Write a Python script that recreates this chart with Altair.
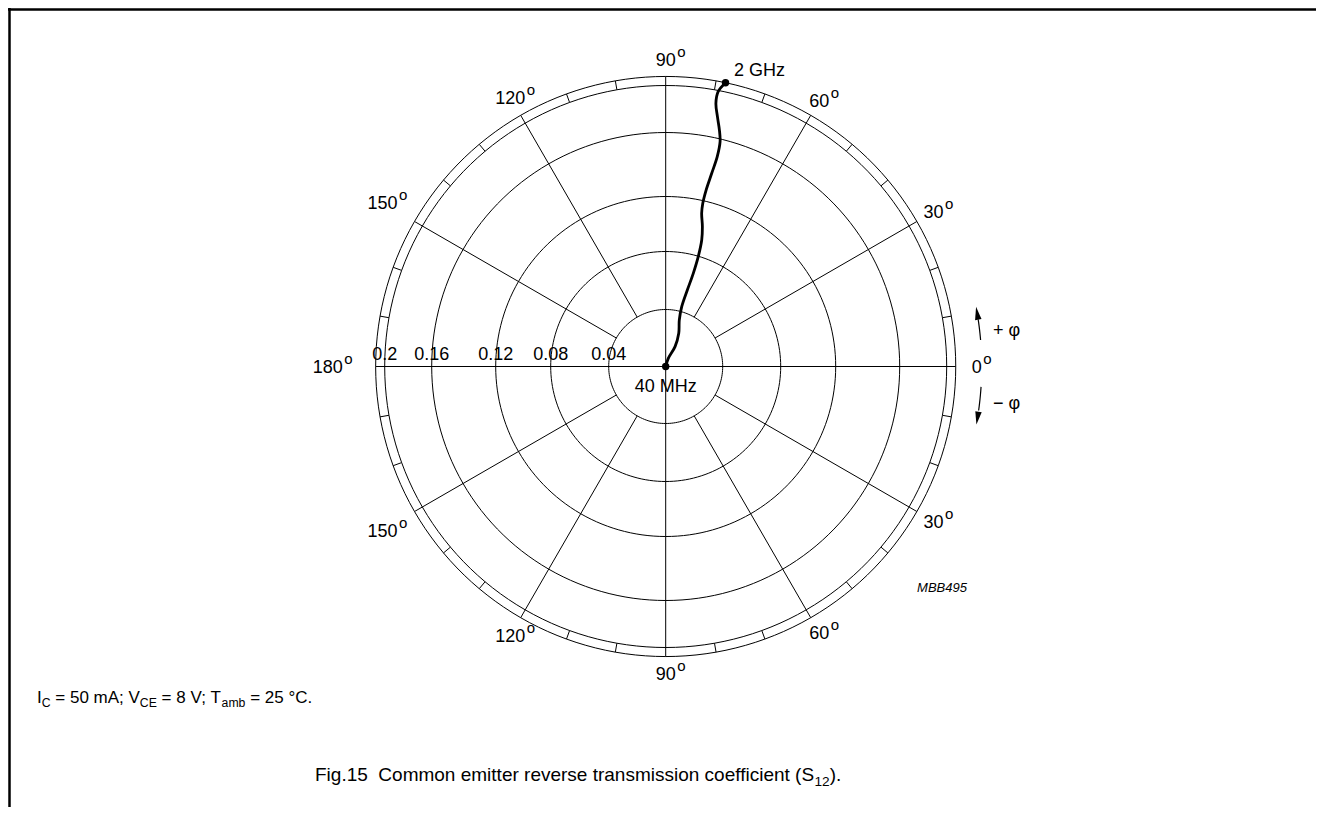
import math
import altair as alt
import pandas as pd

# ---------------- data ----------------
RING_VALUES = [0.04, 0.08, 0.12, 0.16, 0.20]
RING_LABELS = ["0.04", "0.08", "0.12", "0.16", "0.2"]
PHASE_ANGLES = [0, 30, 60, 90, 120, 150, 180, 210, 240, 270, 300, 330]
PHASE_TEXT = ["0", "30", "60", "90", "120", "150", "180", "150", "120", "90", "60", "30"]
# S12 trace, 40 MHz (centre) -> 2 GHz (magnitude, phase in degrees)
S12_MAG = [0.0, 0.0060, 0.0154, 0.0251, 0.0340, 0.0434, 0.0555, 0.0677, 0.0797, 0.0920,
           0.1015, 0.1109, 0.1180, 0.1269, 0.1379, 0.1488, 0.1583, 0.1672, 0.1780,
           0.1889, 0.1990, 0.2077]
S12_PHASE = [75.0, 72.4, 64.8, 68.6, 73.7, 75.0, 74.2, 73.5, 73.5, 74.1, 75.3, 76.8,
             77.2, 77.1, 76.6, 76.2, 76.4, 77.2, 78.3, 79.2, 79.2, 78.1]
FREQ_LABELS = ["40 MHz", "2 GHz"]
FOOTNOTE = [("I", False), ("C", True), (" = 50 mA; V", False), ("CE", True),
            (" = 8 V; T", False), ("amb", True), (" = 25 °C.", False)]
TITLE = [("Fig.15  Common emitter reverse transmission coefficient (S", False),
         ("12", True), (").", False)]
FIG_CODE = "MBB495"
PHI_LABELS = ["+ φ", "\u2212 φ"]

# ---------------- layout ----------------
W, H = 1308, 799
CX, CY = 657.7, 358.5          # pole position inside the plot area
R_DOMAIN = [0, 0.04, 0.08, 0.12, 0.16, 0.20]
R_RANGE = [0, 57, 115, 170, 234, 281]   # printed ring radii (px)
OUTER = 0.2077                  # outer degree-scale ring
FONT = "Liberation Sans"
INK = "#000000"

XS = alt.Scale(domain=[-CX, W - CX], nice=False, zero=False)
YS = alt.Scale(domain=[-(H - CY), CY], nice=False, zero=False)


def X(f):
    return alt.X(f"{f}:Q", scale=XS, axis=None)


def Y(f):
    return alt.Y(f"{f}:Q", scale=YS, axis=None)


def rpx(f):
    n = len(R_DOMAIN)

    def seg(i):
        slope = (R_RANGE[i + 1] - R_RANGE[i]) / (R_DOMAIN[i + 1] - R_DOMAIN[i])
        return f"({R_RANGE[i]} + ({f} - {R_DOMAIN[i]}) * {slope})"

    e = seg(n - 2)
    for i in range(n - 3, -1, -1):
        e = f"({f} <= {R_DOMAIN[i + 1]} ? {seg(i)} : {e})"
    return e


def P(px, py):
    return (px - 8 - CX, CY - (py - 8))


AW = {' ': 278, '\u00a0': 278, '(': 333, ')': 333, '.': 278, ';': 278, '=': 584,
      '°': 400, 'A': 667, 'C': 722, 'E': 667, 'F': 611, 'I': 278, 'S': 667,
      'T': 611, 'V': 667, 'a': 556, 'b': 556, 'c': 500, 'e': 556, 'f': 278,
      'g': 556, 'i': 222, 'm': 833, 'n': 556, 'o': 556, 'r': 333, 's': 500,
      't': 278, 'v': 500}


def tw(s, fs):
    return sum(AW.get(ch, 556) for ch in s) / 1000.0 * fs


def compose(pieces, x0, base_y, fs):
    rows = []
    x = x0
    for txt, sub in pieces:
        size = fs * 0.72 if sub else fs
        y = base_y + (fs * 0.24 if sub else 0)
        lead = len(txt) - len(txt.lstrip(" "))
        px, py = P(x + tw(txt[:lead], size), y)
        rows.append({"t": txt.strip(" ").replace(" ", "\u00a0"), "x": px, "y": py, "fs": size})
        x += tw(txt, size)
    return rows


# ---------------- layers ----------------
ring_rows = [{"ring": r, "a": a} for r in RING_VALUES + [OUTER] for a in range(0, 361, 2)]
circles = (
    alt.Chart(pd.DataFrame(ring_rows))
    .transform_calculate(rp=rpx("datum.ring"))
    .transform_calculate(x="datum.rp*cos(datum.a*PI/180)")
    .transform_calculate(y="datum.rp*sin(datum.a*PI/180)")
    .mark_line(color=INK, strokeWidth=1)
    .encode(x=X("x"), y=Y("y"), detail="ring:N", order="a:Q")
)

spoke_rows = [{"a": a, "r0": 0.0 if a % 90 == 0 else RING_VALUES[0], "r1": OUTER}
              for a in range(0, 360, 30)]
spoke_rows += [{"a": a, "r0": RING_VALUES[-1], "r1": OUTER}
               for a in range(0, 360, 10) if a % 30]
spokes = (
    alt.Chart(pd.DataFrame(spoke_rows))
    .transform_calculate(p0=rpx("datum.r0"))
    .transform_calculate(p1=rpx("datum.r1"))
    .transform_calculate(x0="datum.p0*cos(datum.a*PI/180)", y0="datum.p0*sin(datum.a*PI/180)")
    .transform_calculate(x1="datum.p1*cos(datum.a*PI/180)", y1="datum.p1*sin(datum.a*PI/180)")
    .mark_rule(color=INK, strokeWidth=1)
    .encode(x=X("x0"), y=Y("y0"), x2="x1:Q", y2="y1:Q")
)

curve_df = pd.DataFrame({"mag": S12_MAG, "ph": S12_PHASE, "i": list(range(len(S12_MAG)))})


def polar(ch):
    return (ch.transform_calculate(rp=rpx("datum.mag"))
            .transform_calculate(x="datum.rp*cos(datum.ph*PI/180)")
            .transform_calculate(y="datum.rp*sin(datum.ph*PI/180)"))


curve = polar(alt.Chart(curve_df)).mark_line(
    color=INK, strokeWidth=2.8, interpolate="catmull-rom", strokeCap="round"
).encode(x=X("x"), y=Y("y"), order="i:Q")

ends_df = pd.DataFrame({"mag": [S12_MAG[0], S12_MAG[-1]], "ph": [S12_PHASE[0], S12_PHASE[-1]],
                        "lab": FREQ_LABELS})
dots = polar(alt.Chart(ends_df)).mark_point(filled=True, color=INK, size=55, opacity=1).encode(
    x=X("x"), y=Y("y"))
start_lab = polar(alt.Chart(ends_df.iloc[[0]])).mark_text(
    font=FONT, fontSize=18, align="center", baseline="alphabetic", dy=25.5, color=INK
).encode(x=X("x"), y=Y("y"), text="lab:N")
end_lab = polar(alt.Chart(ends_df.iloc[[1]])).mark_text(
    font=FONT, fontSize=18, align="left", baseline="alphabetic", dx=8.6, dy=-7, color=INK
).encode(x=X("x"), y=Y("y"), text="lab:N")

ring_lab_df = pd.DataFrame({"m": RING_VALUES, "lab": RING_LABELS})
ring_labels = (
    alt.Chart(ring_lab_df)
    .transform_calculate(x="-" + rpx("datum.m"), y="0")
    .mark_text(font=FONT, fontSize=18, align="center", baseline="alphabetic", dy=-7, color=INK)
    .encode(x=X("x"), y=Y("y"), text="lab:N")
)

FS_NUM, FS_O = 18, 15
deg_rows = []
for a, t in zip(PHASE_ANGLES, PHASE_TEXT):
    c, s = math.cos(math.radians(a)), math.sin(math.radians(a))
    wn = len(t) * 0.556 * FS_NUM
    rl = 307 + 4 * max(c, 0) ** 4 + (31 * (-c) ** 3 if c < -0.1 else 0)
    gx, gy = rl * c, rl * s
    deg_rows.append({"t": t, "nx": gx, "ny": gy - 6.5, "ox": gx + wn / 2 + 1.5, "oy": gy + 2.5})
deg_df = pd.DataFrame(deg_rows)
deg_num = alt.Chart(deg_df).mark_text(
    font=FONT, fontSize=FS_NUM, align="center", baseline="alphabetic", color=INK
).encode(x=X("nx"), y=Y("ny"), text="t:N")
deg_o = alt.Chart(deg_df).mark_text(
    font=FONT, fontSize=FS_O, align="left", baseline="alphabetic", color=INK, text="o"
).encode(x=X("ox"), y=Y("oy"))

# phase-direction arrows
AR = 316
shaft_rows = []
for k, (a0, a1) in enumerate([(4.8, 8.6), (-3.7, -8.0)]):
    for j in range(7):
        a = a0 + (a1 - a0) * j / 6
        shaft_rows.append({"k": k, "j": j, "x": AR * math.cos(math.radians(a)),
                           "y": AR * math.sin(math.radians(a))})
shafts = alt.Chart(pd.DataFrame(shaft_rows)).mark_line(color=INK, strokeWidth=1.2).encode(
    x=X("x"), y=Y("y"), detail="k:N", order="j:Q")
head_rows = []
for a, rot in [(9.7, 350.3), (-9.4, 189.4)]:
    head_rows.append({"x": AR * math.cos(math.radians(a)), "y": AR * math.sin(math.radians(a)),
                      "rot": rot})
heads = alt.Chart(pd.DataFrame(head_rows)).mark_point(
    shape="M0,-1L0.5,1L-0.5,1Z", filled=True, color=INK, size=169, opacity=1
).encode(x=X("x"), y=Y("y"), angle=alt.Angle("rot:Q", scale=None))

ann_rows = []
for lab, (px, py) in zip(PHI_LABELS, [(993, 331), (993, 404)]):
    x, y = P(px, py)
    ann_rows.append({"t": lab.replace(" ", "\u00a0"), "x": x, "y": y})
phi_text = alt.Chart(pd.DataFrame(ann_rows)).mark_text(
    font=FONT, fontSize=18, align="left", baseline="middle", color=INK
).encode(x=X("x"), y=Y("y"), text="t:N")

cx_, cy_ = P(942, 588)
code_text = alt.Chart(pd.DataFrame({"t": [FIG_CODE], "x": [cx_], "y": [cy_]})).mark_text(
    font=FONT, fontSize=13, fontStyle="italic", align="center", baseline="middle", color=INK
).encode(x=X("x"), y=Y("y"), text="t:N")

text_rows = compose(FOOTNOTE, 37, 703, 17) + compose(TITLE, 315, 781, 19)
pieces = alt.Chart(pd.DataFrame(text_rows)).mark_text(
    font=FONT, align="left", baseline="alphabetic", color=INK
).encode(x=X("x"), y=Y("y"), text="t:N", size=alt.Size("fs:Q", scale=None, legend=None))

frame_df = pd.DataFrame({"k": [0]})
frame_left = alt.Chart(frame_df).mark_rule(color=INK, strokeWidth=2.5).encode(
    x=alt.value(1.5), y=alt.value(0), y2=alt.value(H))
frame_top = alt.Chart(frame_df).mark_rule(color=INK, strokeWidth=2.5).encode(
    x=alt.value(0), x2=alt.value(W), y=alt.value(1.5))

chart = alt.layer(
    circles, spokes, curve, dots, start_lab, end_lab, ring_labels, deg_num, deg_o,
    shafts, heads, phi_text, code_text, pieces, frame_left, frame_top
).properties(
    width=W, height=H, padding=0, autosize="none", background="white"
).configure_view(stroke=None)

chart.save("out.html", embed_options={"renderer": "svg", "actions": False})
